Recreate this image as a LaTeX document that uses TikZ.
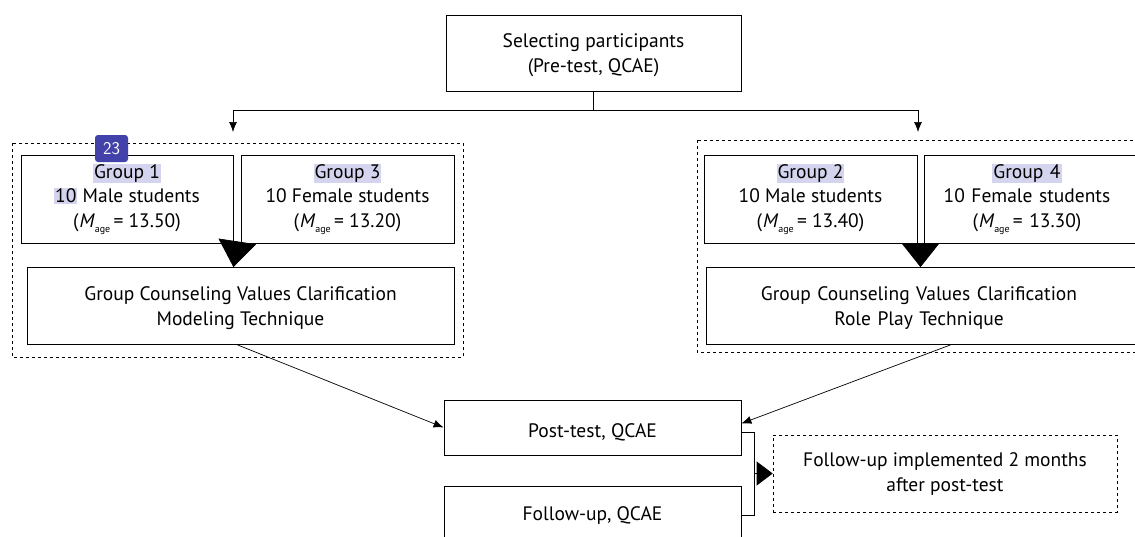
\documentclass[tikz,border=0pt]{standalone}
\usepackage{fontspec}
\setmainfont{PT Sans}
\usetikzlibrary{arrows.meta,calc}
\definecolor{hlc}{RGB}{212,212,238}
\definecolor{badge}{RGB}{66,66,170}
\newcommand{\hlt}[1]{{\setlength{\fboxsep}{1pt}\colorbox{hlc}{#1}}}
\newcommand{\mage}{(\kern1pt\textit{M}\raisebox{-5pt}{\fontsize{10}{10}\selectfont age}\,= }
\newcommand{\cl}[2]{\makebox[#1][c]{#2}}
\newcommand{\dn}[2]{\raisebox{-#1}[\height][\depth]{#2}}
\begin{document}
\begin{tikzpicture}[x=1pt,y=-1pt,
  box/.style={draw,line width=0.8pt,align=center,inner sep=0pt,font=\fontsize{19.5}{24.5}\selectfont},
  dbox/.style={draw,dashed,line width=0.7pt},
  conn/.style={line width=0.7pt,-{Latex[length=10pt,width=8pt]}}]
\useasboundingbox (0,0) rectangle (1135,536);
\fill[white] (0,0) rectangle (1135,536);
% top
\node[box,minimum width=295pt,minimum height=76pt] (top) at (593.5,53) {\dn{2pt}{Selecting participants}\\\dn{2pt}{(Pre-test, QCAE)}};
\coordinate (tl) at (233,132);
\coordinate (tr) at (918,132);
\draw[conn] (top.south) -- ++(0,19) -| (tl);
\draw[conn] (top.south) -- ++(0,19) -| (tr);
% left group
\draw[dbox] (12,143) rectangle (463,357);
\node[box,minimum width=212pt,minimum height=88pt] (g1) at (127,199) {\hlt{Group 1}\\\hlt{10} Male students\\\mage 13.50)};
\node[box,minimum width=213pt,minimum height=88pt] (g3) at (347.5,199) {\hlt{Group 3}\\10 Female students\\\mage 13.20)};
\node[box,minimum width=427pt,minimum height=77pt] (mod) at (240.5,306) {\dn{2pt}{Group Counseling Values Clarification}\\\dn{2pt}{Modeling Technique}};
\draw[line width=0.7pt,-{Triangle[length=26pt,width=38pt]}] ($(g1.south east)!0.5!(g3.south west)$) -- (mod.north -| g1.south east) ;
% right group
\draw[dbox] (697,140) rectangle (1150,352);
\node[box,minimum width=213pt,minimum height=88pt] (g2) at (810.5,199) {\hlt{Group 2}\\10 Male students\\\mage 13.40)};
\node[box,minimum width=221pt,minimum height=88pt,text width=221pt,align=left] (g4) at (1034.5,199) {\cl{206pt}{\hlt{Group 4}}\\\cl{206pt}{10 Female students}\\\cl{206pt}{\mage 13.30)}};
\node[box,minimum width=439pt,minimum height=77pt,text width=439pt,align=left] (rp) at (925.5,306) {\cl{426pt}{\dn{2pt}{Group Counseling Values Clarification}}\\\cl{426pt}{\dn{2pt}{Role Play Technique}}};
\coordinate (gm) at ($(g2.south east)!0.5!(g4.south west)$);
\draw[line width=0.7pt,-{Triangle[length=24pt,width=38pt]}] (gm) -- (gm |- rp.north);
% post
\node[box,minimum width=297pt,minimum height=55pt] (post) at (592.5,427.5) {\dn{5pt}{Post-test, QCAE}};
\node[box,minimum width=297pt,minimum height=58pt] (fu) at (592.5,515) {Follow-up, QCAE};
\draw[conn] ($(mod.south)+(-3,0)$) -- (post.west);
\draw[conn] ($(rp.south)+(25,0)$) -- ($(post.east)+(0,-4)$);
\node[dbox,align=center,inner sep=0pt,minimum width=344pt,minimum height=77pt,font=\fontsize{19.5}{24.5}\selectfont] (note) at (945,473.5) {Follow-up\ implemented\ 2\ months\\\dn{1pt}{after post-test}};
\coordinate (b1) at ($(post.east)+(0,5)$);
\coordinate (b2) at (fu.east);
\draw[line width=0.8pt] (b1) -- ++(13,0) |- (b2);
\coordinate (bm) at (754,473.5);
\draw[line width=0.7pt,-{Triangle[length=16pt,width=24pt]}] (bm) -- (note.west);
% badge
\node[fill=badge,rounded corners=3pt,minimum width=33pt,minimum height=27pt,inner sep=0pt,text=white,font=\sffamily\fontsize{18}{18}\selectfont] (bd) at (111.5,148.5) {23};
\end{tikzpicture}
\end{document}
